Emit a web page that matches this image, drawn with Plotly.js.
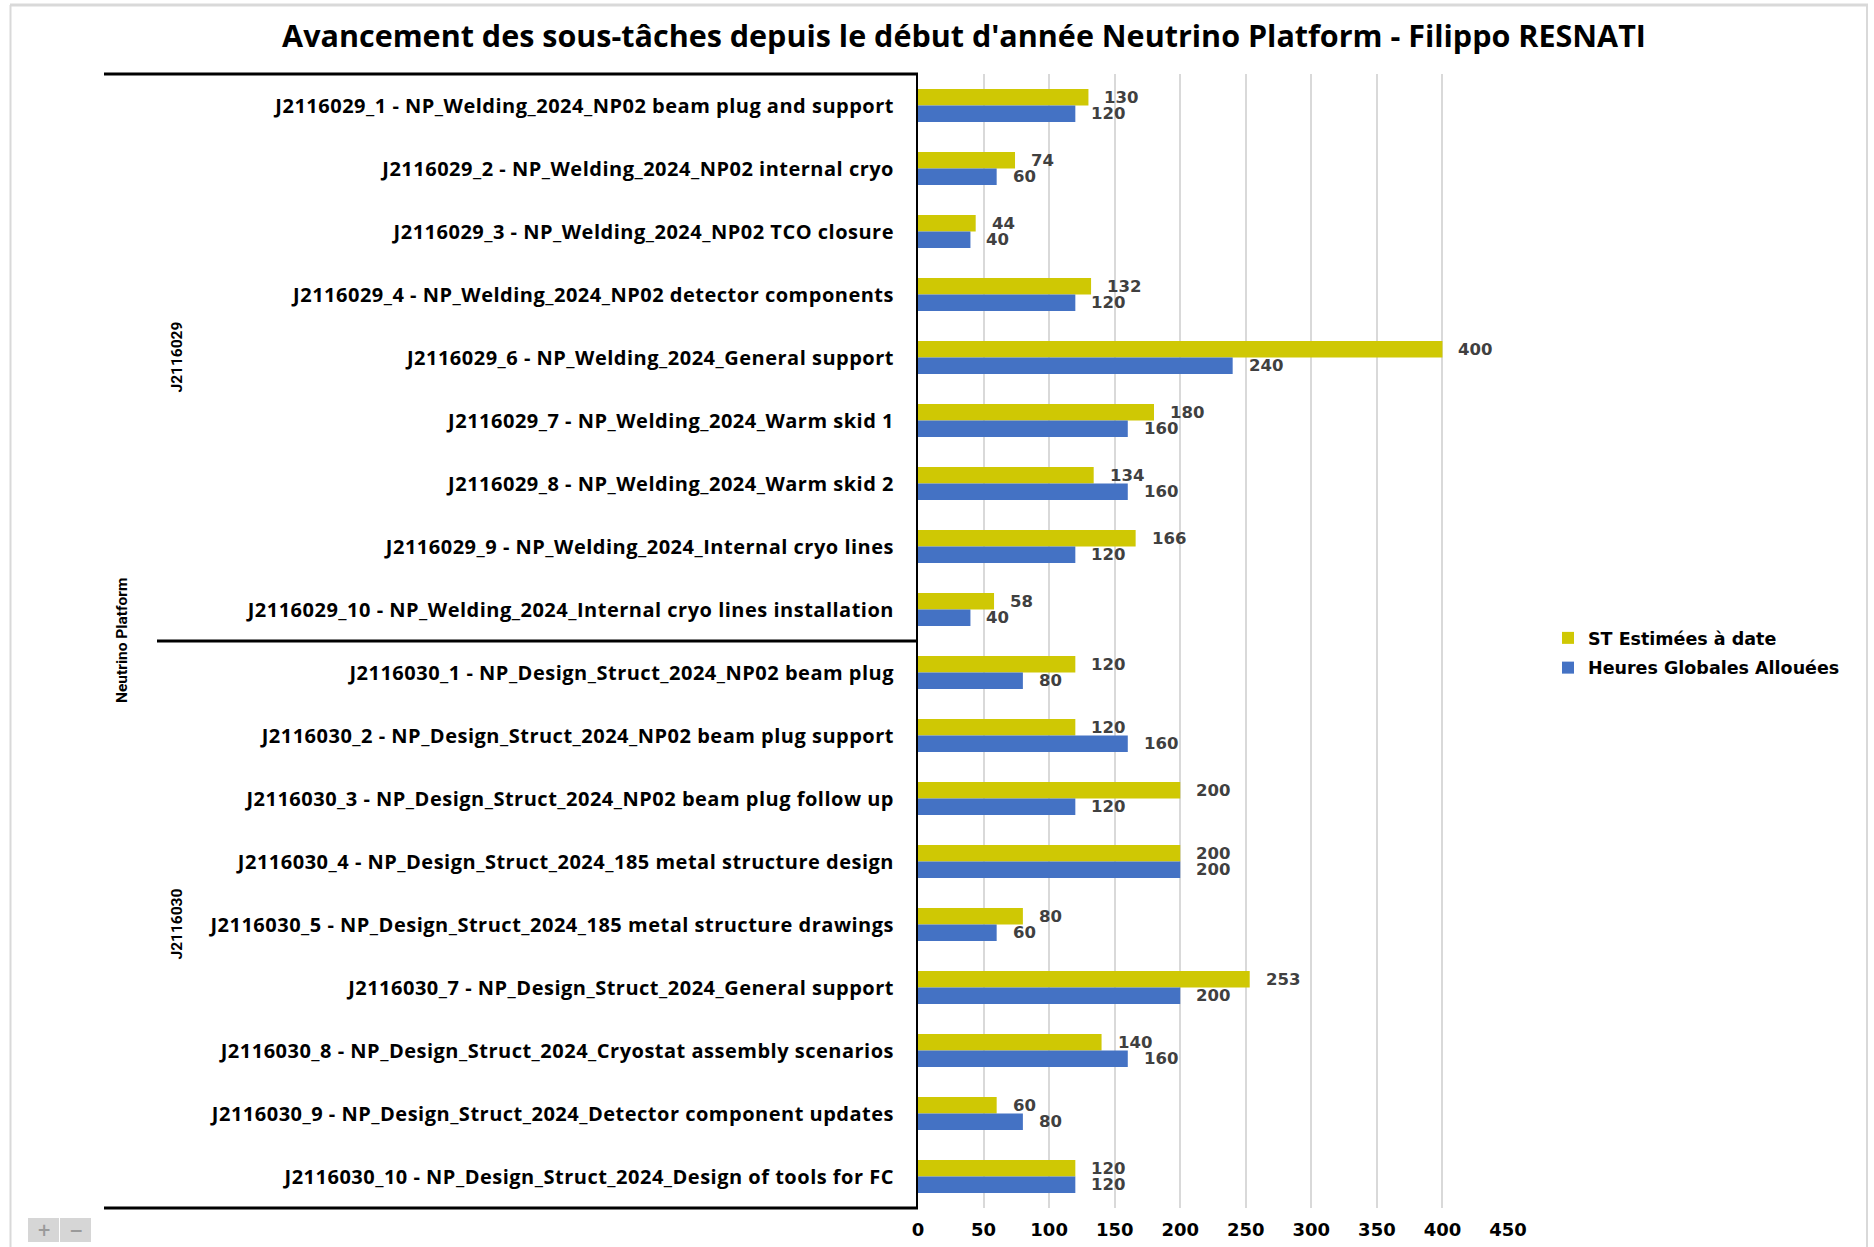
<!DOCTYPE html>
<html>
<head>
<meta charset="utf-8">
<script src="https://cdn.plot.ly/plotly-3.0.1.min.js"></script>
<style>
  html, body { margin: 0; padding: 0; background: #ffffff; }
  #chart { width: 1874px; height: 1247px; }
  #chart .ytick text { letter-spacing: 0.5px; }
</style>
</head>
<body>
<div id="chart"></div>
<script>
// ---------- data ----------
const categories = [
  "J2116029_1 - NP_Welding_2024_NP02 beam plug and support",
  "J2116029_2 - NP_Welding_2024_NP02 internal cryo",
  "J2116029_3 - NP_Welding_2024_NP02 TCO closure",
  "J2116029_4 - NP_Welding_2024_NP02 detector components",
  "J2116029_6 - NP_Welding_2024_General support",
  "J2116029_7 - NP_Welding_2024_Warm skid 1",
  "J2116029_8 - NP_Welding_2024_Warm skid 2",
  "J2116029_9 - NP_Welding_2024_Internal cryo lines",
  "J2116029_10 - NP_Welding_2024_Internal cryo lines installation",
  "J2116030_1 - NP_Design_Struct_2024_NP02 beam plug",
  "J2116030_2 - NP_Design_Struct_2024_NP02 beam plug support",
  "J2116030_3 - NP_Design_Struct_2024_NP02 beam plug follow up",
  "J2116030_4 - NP_Design_Struct_2024_185 metal structure design",
  "J2116030_5 - NP_Design_Struct_2024_185 metal structure drawings",
  "J2116030_7 - NP_Design_Struct_2024_General support",
  "J2116030_8 - NP_Design_Struct_2024_Cryostat assembly scenarios",
  "J2116030_9 - NP_Design_Struct_2024_Detector component updates",
  "J2116030_10 - NP_Design_Struct_2024_Design of tools for FC"
];
const stEstimees = [130, 74, 44, 132, 400, 180, 134, 166, 58, 120, 120, 200, 200, 80, 253, 140, 60, 120];
const heuresAllouees = [120, 60, 40, 120, 240, 160, 160, 120, 40, 80, 160, 120, 200, 60, 200, 160, 80, 120];
const seriesNames = ["ST Estimées à date", "Heures Globales Allouées"];
const xTickValues = [0, 50, 100, 150, 200, 250, 300, 350, 400, 450];
const groupNames = ["J2116029", "J2116030"];
const groupSizes = [9, 9];
const topGroupName = "Neutrino Platform";
const chartTitle = "Avancement des sous-tâches depuis le début d'année Neutrino Platform - Filippo RESNATI";

// ---------- styles ----------
const YELLOW = "#CFC804";
const BLUE = "#4472C4";
const LABEL_GRAY = "#404040";
const CAT_FONT = "'Open Sans', Lato, sans-serif";
const NUM_FONT = "'DejaVu Sans', Verdana, sans-serif";
const NARROW_FONT = "'Liberation Sans Narrow', 'Roboto', sans-serif";

// plot area in pixels
const W = 1874, H = 1247;
const PL = 918, PR = 1508, PT = 74, PB = 1208;
const px = X => (X - PL) / (PR - PL);
const py = Y => (PB - Y) / (PB - PT);

const traces = [
  {
    type: "bar", orientation: "h", name: seriesNames[0],
    x: stEstimees, y: categories,
    marker: { color: YELLOW },
    legendgroup: "a", hoverinfo: "x+name"
  },
  {
    type: "bar", orientation: "h", name: seriesNames[1],
    x: heuresAllouees, y: categories,
    marker: { color: BLUE },
    legendgroup: "b", hoverinfo: "x+name"
  }
];

// data labels
const annotations = [];
[stEstimees, heuresAllouees].forEach((vals, s) => {
  vals.forEach((v, i) => {
    annotations.push({
      x: v, y: categories[i], xref: "x", yref: "y",
      text: String(v), showarrow: false,
      xanchor: "left", yanchor: "middle",
      xshift: 14, yshift: s === 0 ? 8 : -8,
      font: { family: NUM_FONT, size: 16.5, color: LABEL_GRAY, weight: 700 }
    });
  });
});

// group labels (hierarchical axis)
let start = 0;
groupNames.forEach((g, k) => {
  const mid = start + (groupSizes[k] - 1) / 2;
  annotations.push({
    x: px(176), y: mid, xref: "paper", yref: "y",
    text: "<b>" + g + "</b>", showarrow: false, textangle: -90,
    xanchor: "center", yanchor: "middle",
    font: { family: NARROW_FONT, size: 15.5, color: "#000" }
  });
  start += groupSizes[k];
});
annotations.push({
  x: px(122), y: (categories.length - 1) / 2, xref: "paper", yref: "y",
  text: "<b>" + topGroupName + "</b>", showarrow: false, textangle: -90,
  xanchor: "center", yanchor: "middle",
  font: { family: NARROW_FONT, size: 15.5, color: "#000" }
});

// zoom buttons look-alike text
annotations.push({
  x: px(43.5), y: py(1230), xref: "paper", yref: "paper",
  text: "+", showarrow: false, xanchor: "center", yanchor: "middle",
  font: { family: "DejaVu Sans", size: 17, color: "#9a9a9a", weight: 700 }
});
annotations.push({
  x: px(75.5), y: py(1230), xref: "paper", yref: "paper",
  text: "−", showarrow: false, xanchor: "center", yanchor: "middle",
  font: { family: "DejaVu Sans", size: 17, color: "#9a9a9a", weight: 700 }
});

const shapes = [
  // outer frame (light gray)
  { type: "line", xref: "paper", yref: "paper", x0: px(10), x1: px(1868), y0: py(5), y1: py(5), line: { color: "#d9d9d9", width: 3 } },
  { type: "line", xref: "paper", yref: "paper", x0: px(10.5), x1: px(10.5), y0: py(5), y1: py(1247), line: { color: "#d9d9d9", width: 2 } },
  { type: "line", xref: "paper", yref: "paper", x0: px(1867), x1: px(1867), y0: py(5), y1: py(1247), line: { color: "#d9d9d9", width: 2 } },
  // hierarchy lines
  { type: "line", xref: "paper", yref: "paper", x0: px(104), x1: px(PL), y0: 1, y1: 1, line: { color: "#000", width: 3 } },
  { type: "line", xref: "paper", yref: "y", x0: px(157), x1: px(PL), y0: groupSizes[0] - 0.5, y1: groupSizes[0] - 0.5, line: { color: "#000", width: 3 } },
  { type: "line", xref: "paper", yref: "paper", x0: px(104), x1: px(PL), y0: 0, y1: 0, line: { color: "#000", width: 3 } },
  // zoom buttons look-alike
  { type: "rect", xref: "paper", yref: "paper", x0: px(28), x1: px(59), y0: py(1242), y1: py(1218), fillcolor: "#d6d6d6", line: { width: 0 } },
  { type: "rect", xref: "paper", yref: "paper", x0: px(60), x1: px(91), y0: py(1242), y1: py(1218), fillcolor: "#d6d6d6", line: { width: 0 } }
];

const layout = {
  width: W, height: H,
  paper_bgcolor: "#ffffff", plot_bgcolor: "#ffffff",
  margin: { l: PL, r: W - PR, t: PT, b: H - PB, autoexpand: false },
  title: {
    text: "<b>" + chartTitle + "</b>",
    xref: "container", yref: "container",
    x: 964 / W, xanchor: "center",
    y: 1 - 36 / H, yanchor: "middle",
    font: { family: CAT_FONT, size: 30.5, color: "#000" }
  },
  barmode: "group",
  bargap: 0.48,
  bargroupgap: 0,
  xaxis: {
    range: [0, 450],
    tickvals: xTickValues,
    ticktext: xTickValues.map(String),
    showgrid: true, gridcolor: "#d9d9d9", gridwidth: 2,
    zeroline: false, showline: false, ticks: "",
    ticklabelstandoff: 9,
    tickfont: { family: NUM_FONT, size: 18, color: "#000", weight: 700 },
    fixedrange: true
  },
  yaxis: {
    type: "category",
    categoryorder: "array", categoryarray: categories,
    autorange: "reversed",
    showline: true, linecolor: "#000", linewidth: 2,
    showgrid: false, zeroline: false, ticks: "",
    ticklabelstandoff: 18,
    tickfont: { family: CAT_FONT, size: 20, color: "#000", weight: 700 },
    automargin: false,
    fixedrange: true
  },
  legend: {
    x: px(1548), xanchor: "left",
    y: py(620), yanchor: "top",
    traceorder: "grouped",
    tracegroupgap: 4,
    font: { family: NUM_FONT, size: 17.5, color: "#000", weight: 700 },
    bgcolor: "rgba(0,0,0,0)",
    itemwidth: 30
  },
  showlegend: true,
  annotations: annotations,
  shapes: shapes
};

Plotly.newPlot("chart", traces, layout, { displayModeBar: false, staticPlot: true });
</script>
</body>
</html>
